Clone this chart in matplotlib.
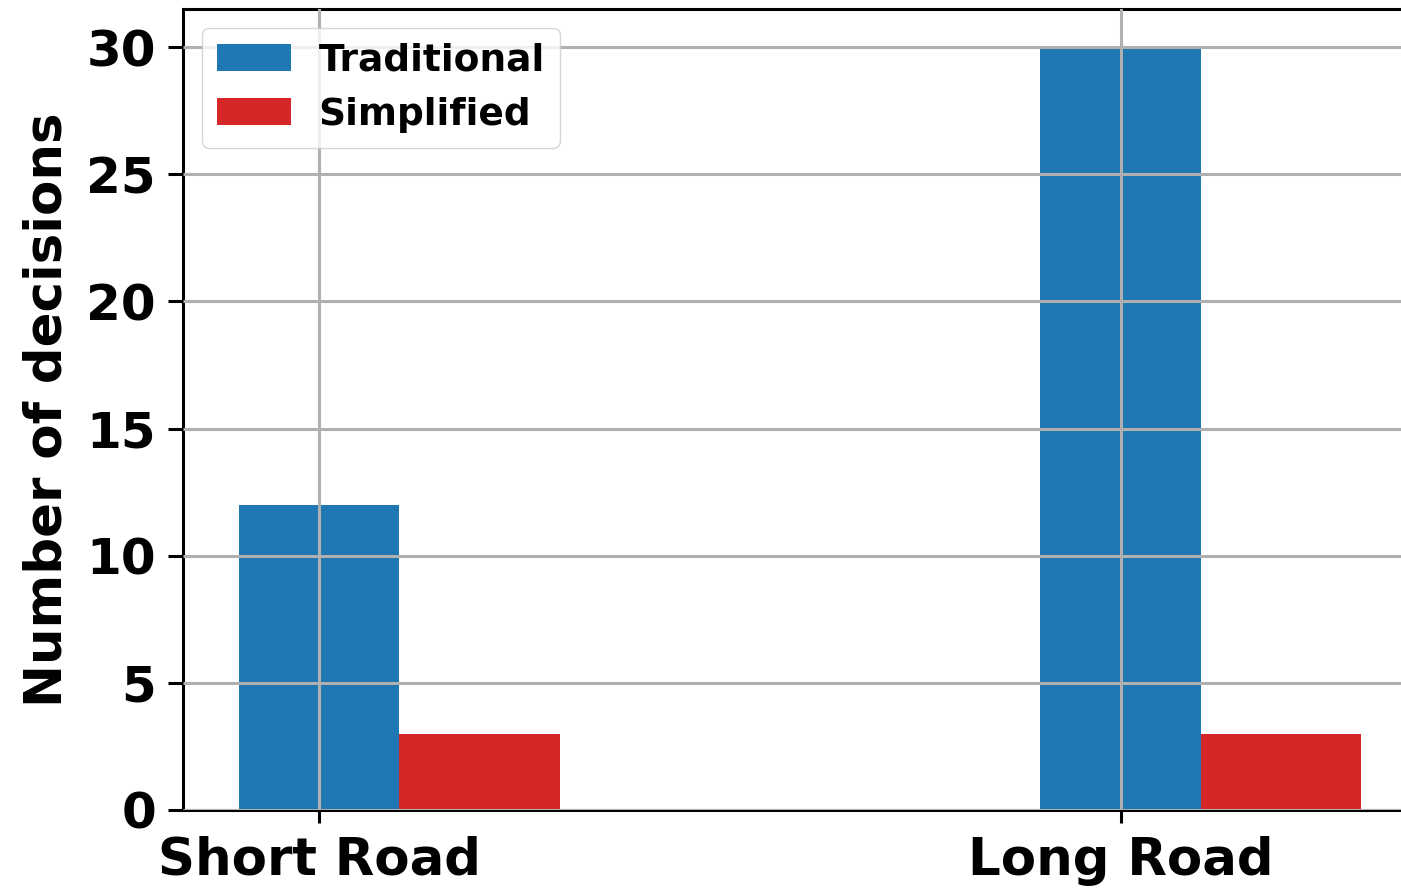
import matplotlib
matplotlib.use('Agg')
import matplotlib.pyplot as plt
import numpy as np

roads = ['Short Road', 'Long Road']
traditional = [12, 30]
simplified = [3, 3]
yticks = [0, 5, 10, 15, 20, 25, 30]

plt.rcParams['font.family'] = 'DejaVu Sans'
plt.rcParams['font.weight'] = 'bold'

fig = plt.figure(figsize=(14.01, 8.9), dpi=100)
ax = fig.add_axes([0.1306, 0.0899, 0.8694, 0.9])

x = np.arange(len(roads))
width = 0.2
ax.bar(x, traditional, width, color='#1f77b4', label='Traditional')
ax.bar(x + width, simplified, width, color='#d62728', label='Simplified')

ax.set_xticks(x)
ax.set_xticklabels(roads, fontsize=37, fontweight='bold')
ax.set_yticks(yticks)
ax.set_yticklabels(yticks, fontsize=36, fontweight='bold')
ax.set_ylabel('Number of decisions', fontsize=37, fontweight='bold', labelpad=10)
ax.set_xlim(-0.17, 1.35)
ax.set_ylim(0, 31.5)

ax.grid(True, color='#b0b0b0', linewidth=2.2)
ax.set_axisbelow(False)
for s in ax.spines.values():
    s.set_linewidth(2.2)
ax.spines['right'].set_visible(False)
ax.tick_params(axis='x', length=9.5, width=2.2, pad=9)
ax.tick_params(axis='y', length=10.5, width=2.2, pad=9)

leg = ax.legend(loc='upper left', prop={'weight': 'bold', 'size': 27},
                handlelength=1.97, handleheight=0.7, borderpad=0.4,
                labelspacing=0.48, handletextpad=0.75)

plt.savefig('out.png', dpi=100)
